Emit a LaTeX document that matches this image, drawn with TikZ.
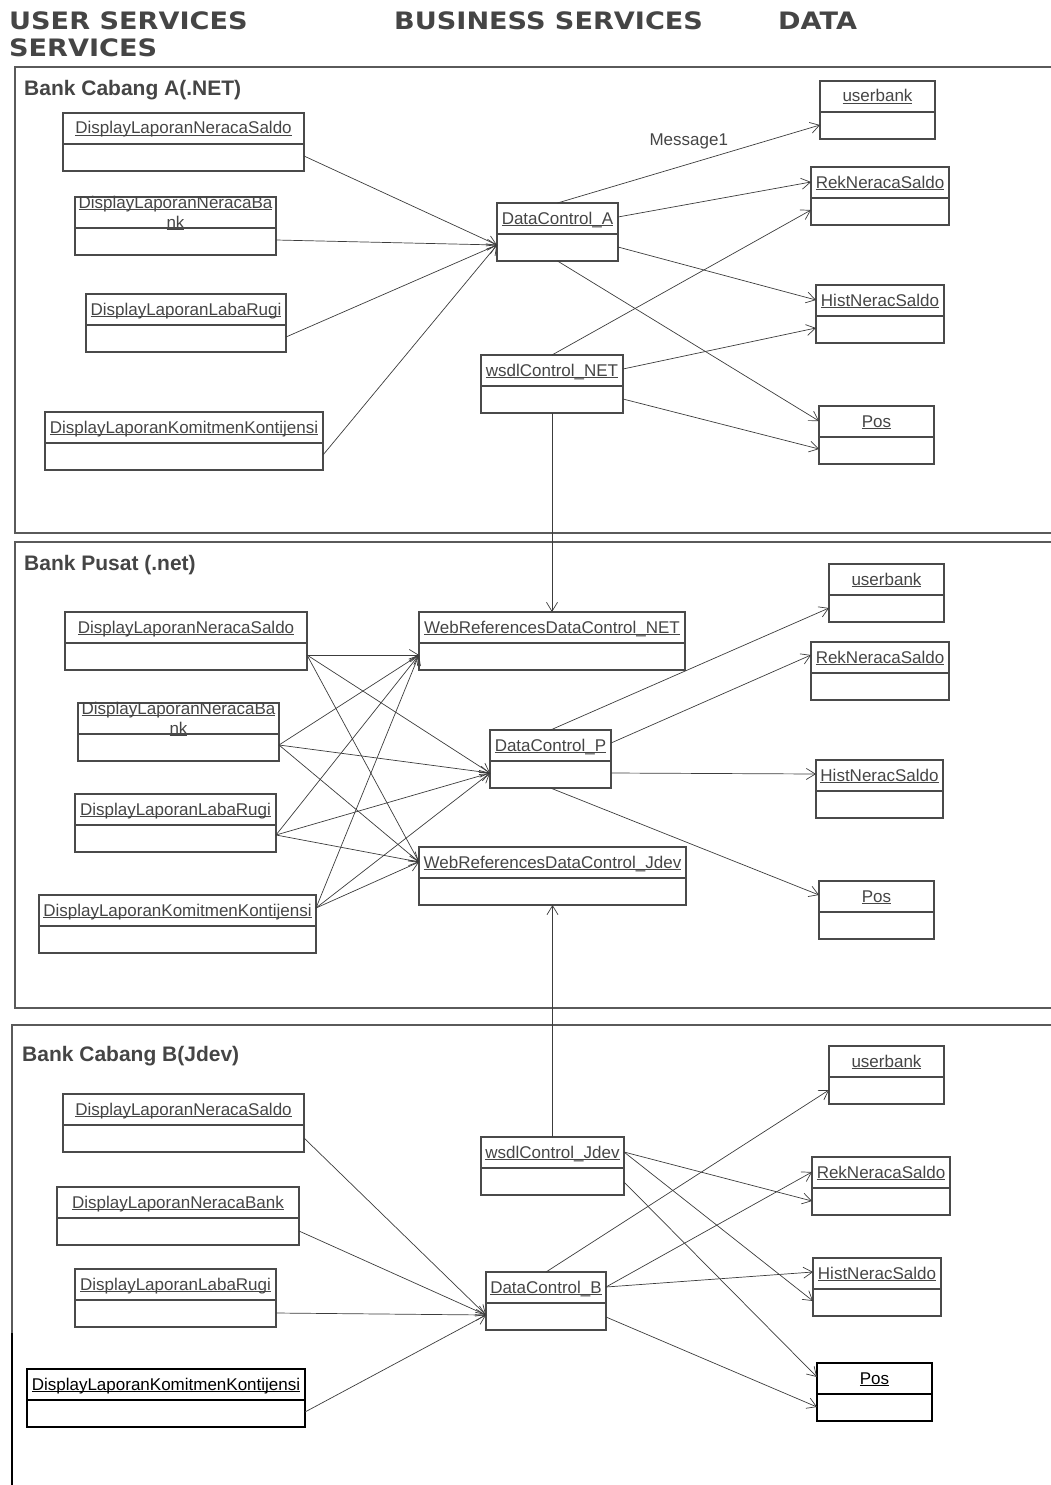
\documentclass[tikz,border=0pt]{standalone}
\usepackage{fontspec}
\usepackage{graphicx}
\usepackage{xcolor}
\usepackage{tikz}
\usetikzlibrary{arrows.meta}
\setmainfont{Liberation Sans}
\newfontfamily\headfont{DejaVu Sans}
\definecolor{linegray}{HTML}{3C3C3C}
\definecolor{boxgray}{HTML}{4A4A4A}
\definecolor{textgray}{HTML}{454545}
\definecolor{framegray}{HTML}{5A5A5A}
\newcommand{\ulabel}[1]{\underline{\smash{#1}}}
\newcommand{\wide}[1]{\scalebox{1.13}[1]{#1}}

\begin{document}
\begin{tikzpicture}[x=1pt, y=-1pt,
    obj/.style={draw=boxgray, line width=1.2pt, anchor=north west, outer sep=0pt, minimum height=58pt, inner sep=0pt, text height=21pt, text depth=37pt, text=textgray, font=\fontsize{17}{20}\selectfont},
    objtwo/.style={obj, text height=11pt, text depth=47pt, align=center},
    boldobj/.style={obj, draw=black, text=black, line width=1.5pt},
    divider/.style={draw=boxgray, line width=1.2pt},
    link/.style={draw=linegray, line width=0.7pt, -{Straight Barb[length=9pt,width=11pt]}},
    msg/.style={inner sep=0pt, text=textgray, font=\fontsize{17}{20}\selectfont},
    frame/.style={draw=framegray, line width=1.2pt},
    title/.style={anchor=base west, inner sep=0pt, text=textgray, font=\bfseries\fontsize{21}{24}\selectfont},
    head/.style={anchor=base west, inner sep=0pt, text=textgray, font=\headfont\bfseries\fontsize{24}{28}\selectfont}]

    \useasboundingbox (0,0) rectangle (1051,1485);

    \node[head] (h1) at (9,30) {\wide{USER SERVICES}};
    \node[head] (h2) at (9,57) {\wide{SERVICES}};
    \node[head] (h3) at (394,30) {\wide{BUSINESS SERVICES}};
    \node[head] (h4) at (778,30) {\wide{DATA}};

    \draw[frame] (1051,67) -- (15,67) -- (15,533) -- (1051,533);
    \draw[frame] (1051,542) -- (15,542) -- (15,1008) -- (1051,1008);
    \draw[frame] (1051,1025) -- (12,1025) -- (12,1333);
    \draw[frame, draw=black] (12,1333) -- (12,1485);

    \node[title] (ta) at (24,96) {Bank Cabang A(.NET)};
    \node[title] (tb) at (24,570) {Bank Pusat (.net)};
    \node[title] (tc) at (22,1061) {Bank Cabang B(Jdev)};

    \node[obj, minimum width=241pt] (a1) at (63,113) {\ulabel{DisplayLaporanNeracaSaldo}};
    \node[objtwo, text width=201pt] (a2) at (75,197) {\ulabel{DisplayLaporanNeracaBa}\\\ulabel{nk}};
    \node[obj, minimum width=200pt] (a3) at (86,294) {\ulabel{DisplayLaporanLabaRugi}};
    \node[obj, minimum width=278pt] (a4) at (45,412) {\ulabel{DisplayLaporanKomitmenKontijensi}};
    \node[obj, minimum width=121pt] (adc) at (497,203) {\ulabel{DataControl\_A}};
    \node[obj, minimum width=142pt] (aws) at (481,355) {\ulabel{wsdlControl\_NET}};
    \node[obj, minimum width=115pt] (aub) at (820,81) {\ulabel{userbank}};
    \node[obj, minimum width=138pt] (ark) at (811,167) {\ulabel{RekNeracaSaldo}};
    \node[obj, minimum width=128pt] (ahs) at (816,285) {\ulabel{HistNeracSaldo}};
    \node[obj, minimum width=115pt] (aps) at (819,406) {\ulabel{Pos}};

    \node[obj, minimum width=242pt] (b1) at (65,612) {\ulabel{DisplayLaporanNeracaSaldo}};
    \node[objtwo, text width=201pt] (b2) at (78,703) {\ulabel{DisplayLaporanNeracaBa}\\\ulabel{nk}};
    \node[obj, minimum width=201pt] (b3) at (75,794) {\ulabel{DisplayLaporanLabaRugi}};
    \node[obj, minimum width=277pt] (b4) at (39,895) {\ulabel{DisplayLaporanKomitmenKontijensi}};
    \node[obj, minimum width=266pt] (bwn) at (419,612) {\ulabel{WebReferencesDataControl\_NET}};
    \node[obj, minimum width=267pt] (bwj) at (419,847) {\ulabel{WebReferencesDataControl\_Jdev}};
    \node[obj, minimum width=121pt] (bdc) at (490,730) {\ulabel{DataControl\_P}};
    \node[obj, minimum width=115pt] (bub) at (829,564) {\ulabel{userbank}};
    \node[obj, minimum width=138pt] (brk) at (811,642) {\ulabel{RekNeracaSaldo}};
    \node[obj, minimum width=127pt] (bhs) at (816,760) {\ulabel{HistNeracSaldo}};
    \node[obj, minimum width=115pt] (bps) at (819,881) {\ulabel{Pos}};

    \node[obj, minimum width=241pt] (c1) at (63,1094) {\ulabel{DisplayLaporanNeracaSaldo}};
    \node[obj, minimum width=242pt] (c2) at (57,1187) {\ulabel{DisplayLaporanNeracaBank}};
    \node[obj, minimum width=201pt] (c3) at (75,1269) {\ulabel{DisplayLaporanLabaRugi}};
    \node[boldobj, minimum width=278pt] (c4) at (27,1369) {\ulabel{DisplayLaporanKomitmenKontijensi}};
    \node[obj, minimum width=143pt] (cws) at (481,1137) {\ulabel{wsdlControl\_Jdev}};
    \node[obj, minimum width=120pt] (cdc) at (486,1272) {\ulabel{DataControl\_B}};
    \node[obj, minimum width=115pt] (cub) at (829,1046) {\ulabel{userbank}};
    \node[obj, minimum width=138pt] (crk) at (812,1157) {\ulabel{RekNeracaSaldo}};
    \node[obj, minimum width=128pt] (chs) at (813,1258) {\ulabel{HistNeracSaldo}};
    \node[boldobj, minimum width=115pt] (cps) at (817,1363) {\ulabel{Pos}};

    \foreach \n in {a1,a2,a3,a4,adc,aws,aub,ark,ahs,aps,b1,b2,b3,b4,bwn,bwj,bdc,bub,brk,bhs,bps,c1,c2,c3,cws,cdc,cub,crk,chs}
        \draw[divider] ([yshift=-31pt]\n.north west) -- ([yshift=-31pt]\n.north east);
    \foreach \n in {c4,cps}
        \draw[divider, draw=black, line width=1.5pt] ([yshift=-31pt]\n.north west) -- ([yshift=-31pt]\n.north east);

    \foreach \s in {a1,a2,a3,a4}
        \draw[link] ([yshift=-14pt]\s.east) -- ([yshift=-13pt]adc.west);
    \draw[link] (adc.north) -- node[msg, midway, above=15pt] (m1) {Message1} ([yshift=-15pt]aub.west);
    \draw[link] ([yshift=15pt]adc.east) -- ([yshift=14pt]ark.west);
    \draw[link] ([yshift=-15pt]adc.east) -- ([yshift=14pt]ahs.west);
    \draw[link] (adc.south) -- ([yshift=14pt]aps.west);
    \draw[link] (aws.north) -- ([yshift=-14pt]ark.west);
    \draw[link] ([yshift=15pt]aws.east) -- ([yshift=-14pt]ahs.west);
    \draw[link] ([yshift=-15pt]aws.east) -- ([yshift=-14pt]aps.west);
    \draw[link] (aws.south) -- (bwn.north);

    \foreach \s/\d in {b1/-14pt,b2/-13pt,b3/-12pt,b4/16pt} {
        \draw[link] ([yshift=\d]\s.east) -- ([yshift=-14pt]bwn.west);
        \draw[link] ([yshift=\d]\s.east) -- ([yshift=-14pt]bdc.west);
        \draw[link] ([yshift=\d]\s.east) -- ([yshift=14pt]bwj.west);
    }
    \draw[link] (bdc.north) -- ([yshift=-15pt]bub.west);
    \draw[link] ([yshift=16pt]bdc.east) -- ([yshift=16pt]brk.west);
    \draw[link] ([yshift=-14pt]bdc.east) -- ([yshift=15pt]bhs.west);
    \draw[link] (bdc.south) -- ([yshift=15pt]bps.west);
    \draw[link] (cws.north) -- (bwj.south);

    \foreach \s/\d in {c1/-15pt,c2/-15pt,c3/-15pt,c4/-14pt}
        \draw[link] ([yshift=\d]\s.east) -- ([yshift=-14pt]cdc.west);
    \draw[link] (cdc.north) -- ([yshift=-15pt]cub.west);
    \draw[link] ([yshift=14pt]cdc.east) -- ([yshift=14pt]crk.west);
    \draw[link] ([yshift=14pt]cdc.east) -- ([yshift=15pt]chs.west);
    \draw[link] ([yshift=-16pt]cdc.east) -- ([yshift=-15pt]cps.west);
    \draw[link] ([yshift=14pt]cws.east) -- ([yshift=-15pt]crk.west);
    \draw[link] ([yshift=14pt]cws.east) -- ([yshift=-14pt]chs.west);
    \draw[link] ([yshift=-16pt]cws.east) -- ([yshift=15pt]cps.west);
\end{tikzpicture}
\end{document}
